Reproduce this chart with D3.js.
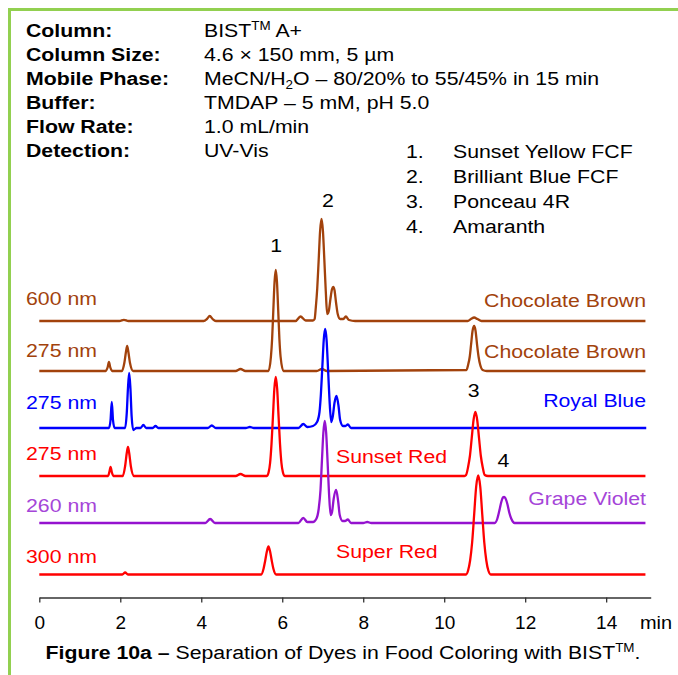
<!DOCTYPE html>
<html>
<head>
<meta charset="utf-8">
<script src="https://cdn.jsdelivr.net/npm/d3@7"></script>
<style>
  html, body { margin: 0; padding: 0; background: #fff; }
  svg { display: block; }
  text { font-family: "Liberation Sans", Arial, Helvetica, sans-serif; }
</style>
</head>
<body>
<svg id="chart" width="678" height="675"></svg>
<script>
// ---------------- DATA ----------------
const timeTicks = [0, 2, 4, 6, 8, 10, 12, 14];
const wavelengthLabels = ["600 nm", "275 nm", "275 nm", "275 nm", "260 nm", "300 nm"];
const sampleLabels = ["Chocolate Brown", "Chocolate Brown", "Royal Blue", "Sunset Red", "Grape Violet", "Super Red"];
// vertical stacking offsets of each chromatogram (signal units)
const offsets = [299, 249, 192, 144, 97, 45.5];

const headerKeys = ["Column:", "Column Size:", "Mobile Phase:", "Buffer:", "Flow Rate:", "Detection:"];
const legendNumbers = ["1.", "2.", "3.", "4."];
const legendNames = ["Sunset Yellow FCF", "Brilliant Blue FCF", "Ponceau 4R", "Amaranth"];
const peakNumbers = ["1", "2", "3", "4"];
const peakLabelTimes = [5.85, 7.13, 10.73, 11.46];

// chromatograms: [time (min), signal]
const trace600Brown = [[0,0],[1.98,0],[2.09,1.2],[2.2,0],[4.06,0],[4.14,2],[4.21,5],[4.28,2],[4.36,0],[6.33,0],[6.45,4.5],[6.58,0.5],[6.76,0.5],
  [6.80,2],[6.83,14],[6.865,33],[6.90,61],[6.935,90],[6.97,102],[7.005,90],[7.04,61],[7.075,30],[7.11,7],[7.15,10],[7.19,22],[7.23,32],[7.26,34],[7.29,31],[7.33,18],[7.37,7],[7.43,2],[7.51,2],[7.57,4.5],[7.65,1],[7.8,0],
  [10.58,0],[10.66,2],[10.74,3.5],[10.82,2],[10.92,0],[14.97,0]];
const trace275Brown = [[0,0],[1.64,0],[1.69,4],[1.72,9],[1.75,4],[1.80,0],[2.04,0],[2.10,8],[2.14,19],[2.17,25],[2.20,19],[2.24,8],[2.32,0],[4.85,0],[4.97,2],[5.09,0],
  [5.66,0],[5.72,14],[5.75,32],[5.78,61],[5.81,89],[5.84,101],[5.87,89],[5.90,61],[5.93,32],[5.96,14],[6.03,0],[6.85,0],[6.98,2],[7.1,0],
  [10.55,1],[10.59,6],[10.63,14],[10.665,27],[10.70,40],[10.74,45],[10.775,40],[10.81,27],[10.85,14],[10.89,6],[10.95,1],[11.05,0],[14.97,0]];
const trace275Blue = [[0,0],[1.72,0],[1.76,8],[1.79,26],[1.82,8],[1.86,0],[2.12,0],[2.16,15],[2.19,40],[2.22,55],[2.25,40],[2.28,12],[2.32,-2],[2.40,0],[2.50,0],[2.57,3],[2.64,0],[2.80,0],[2.87,2],[2.94,0],
  [4.16,0],[4.26,2.5],[4.36,0],[5.10,0],[5.2,1],[5.3,0],[6.40,0],[6.52,4],[6.62,1],[6.76,2],[6.86,6],[6.92,16],[6.955,34],[6.99,61],[7.025,88],[7.06,99],[7.095,88],[7.13,60],[7.165,30],[7.21,6],
  [7.25,12],[7.29,25],[7.34,32],[7.39,22],[7.43,8],[7.50,2],[7.56,2],[7.62,3.5],[7.70,0],[14.99,0]];
const trace275Red = [[0,0],[1.70,0],[1.73,4],[1.76,9],[1.79,4],[1.83,0],[2.06,0],[2.12,10],[2.16,23],[2.19,29],[2.22,23],[2.26,10],[2.34,0],[4.85,0],[4.97,2],[5.09,0],
  [5.62,0],[5.665,4],[5.70,13],[5.735,32],[5.77,59],[5.805,87],[5.84,99],[5.875,87],[5.91,59],[5.945,32],[5.98,13],[6.015,4],[6.06,0],
  [10.50,0],[10.54,1],[10.59,9],[10.635,20],[10.68,38],[10.725,56],[10.77,64],[10.815,56],[10.86,38],[10.905,20],[10.95,9],[11.0,1],[11.08,0],[14.97,0]];
const trace260Violet = [[0,0],[4.10,0],[4.22,4],[4.34,0],[6.40,0],[6.52,5],[6.62,1],[6.76,1],[6.84,4],[6.90,14],[6.945,33],[6.98,62],[7.015,90],[7.05,102],[7.085,90],[7.12,61],[7.155,30],[7.195,8],
  [7.23,11],[7.27,24],[7.33,33],[7.38,22],[7.42,8],[7.49,2],[7.55,2],[7.62,3.5],[7.70,0],[8.0,0],[8.1,1],[8.2,0],
  [11.25,0],[11.31,4],[11.36,12],[11.41,21],[11.45,25.5],[11.48,26],[11.51,25],[11.56,19],[11.61,10],[11.66,4],[11.74,0],[14.97,0]];
const trace300Red = [[0,0],[2.05,0],[2.12,2],[2.19,0],[5.48,0],[5.54,6],[5.58,14],[5.62,23],[5.66,28],[5.70,23],[5.74,14],[5.78,6],[5.85,0],
  [10.54,0],[10.59,4],[10.64,14],[10.69,32],[10.74,60],[10.79,88],[10.84,99],[10.89,88],[10.94,60],[10.99,32],[11.04,14],[11.09,4],[11.15,0],[14.97,0]];

const traces = [trace600Brown, trace275Brown, trace275Blue, trace275Red, trace260Violet, trace300Red];

// ---------------- LAYOUT / STYLE ----------------
const W = 678, H = 675;
const FONT = '"Liberation Sans", Arial, Helvetica, sans-serif';
const SX = 1.12; // horizontal stretch of the lettering
const lineColors = ["#A2420C", "#A2420C", "#0000FF", "#FF0000", "#9512CF", "#FF0000"];
const textColors = ["#A2420C", "#A2420C", "#0000FF", "#FF0000", "#A545D8", "#FF0000"];
const leftLabelY = [305, 357, 409, 460, 512, 563];
const rightLabelY = [307, 358, 407, 463, 505, 558];
const rightLabelAnchor = ["end", "end", "end", "start", "end", "start"];
const rightLabelX = [646, 646, 646, 336, 646, 336];
const peakLabelY = [252, 207, 397, 467];
const axisY = 597.5;

const svg = d3.select("#chart");

const x = d3.scaleLinear().domain([0, 15.1]).range([39.3, 650.7]);
const y = d3.scaleLinear().domain([0, 420]).range([620, 200]);

function txt(g, px, py, s, opt = {}) {
  const t = g.append("text")
    .attr("transform", `translate(${px},${py}) scale(${opt.sx || SX},1)`)
    .attr("font-size", opt.size || 19)
    .attr("font-weight", opt.bold ? "bold" : "normal")
    .attr("fill", opt.color || "#000")
    .attr("text-anchor", opt.anchor || "start");
  if (s !== null) t.text(s);
  return t;
}

// green frame
svg.append("path")
  .attr("d", `M9.5,${H} V9.5 H${W}`)
  .attr("fill", "none")
  .attr("stroke", "#92D050")
  .attr("stroke-width", 3);

// header
const hdr = svg.append("g");
const hdrY = [37, 61, 85, 109, 133, 157];
headerKeys.forEach((k, i) => txt(hdr, 26, hdrY[i], k, { bold: true }));
{
  const t0 = txt(hdr, 204, hdrY[0], null);
  t0.append("tspan").text("BIST");
  t0.append("tspan").attr("dy", -7).attr("font-size", 12).text("TM");
  t0.append("tspan").attr("dy", 7).text(" A+");
  txt(hdr, 204, hdrY[1], "4.6 \u00d7 150 mm, 5 \u00b5m");
  const t2 = txt(hdr, 204, hdrY[2], null);
  t2.append("tspan").text("MeCN/H");
  t2.append("tspan").attr("dy", 4).attr("font-size", 12).text("2");
  t2.append("tspan").attr("dy", -4).text("O \u2013 80/20% to 55/45% in 15 min");
  txt(hdr, 204, hdrY[3], "TMDAP \u2013 5 mM, pH 5.0");
  txt(hdr, 204, hdrY[4], "1.0 mL/min");
  txt(hdr, 204, hdrY[5], "UV-Vis");
}

// legend
const legY = [158, 183, 208, 233];
legendNumbers.forEach((n, i) => {
  txt(hdr, 406, legY[i], n);
  txt(hdr, 453, legY[i], legendNames[i]);
});

// traces
const line = d3.line().curve(d3.curveMonotoneX);
const gTr = svg.append("g");
traces.forEach((tr, i) => {
  gTr.append("path")
    .attr("d", line.x(d => x(d[0])).y(d => y(d[1] + offsets[i]))(tr))
    .attr("fill", "none")
    .attr("stroke", lineColors[i])
    .attr("stroke-width", 2.3)
    .attr("stroke-linejoin", "round");
});

// labels
const gL = svg.append("g");
wavelengthLabels.forEach((s, i) => txt(gL, 26, leftLabelY[i], s, { color: textColors[i] }));
sampleLabels.forEach((s, i) => txt(gL, rightLabelX[i], rightLabelY[i], s, { color: textColors[i], anchor: rightLabelAnchor[i] }));
peakNumbers.forEach((s, i) => txt(gL, x(peakLabelTimes[i]), peakLabelY[i], s, { anchor: "middle" }));

// axis
const gAx = svg.append("g")
  .attr("transform", `translate(0,${axisY})`)
  .call(d3.axisBottom(x).tickValues(timeTicks).tickSize(5).tickPadding(13).tickSizeOuter(0).tickFormat(d3.format("d")));
gAx.select(".domain").attr("stroke", "#333").attr("stroke-width", 1.3);
gAx.selectAll(".tick line").attr("stroke", "#333").attr("stroke-width", 1.3);
gAx.selectAll(".tick text").attr("font-size", 19).attr("font-family", FONT).attr("fill", "#000");
txt(svg, 640, 628.5, "min", { sx: 1.05 });

// caption
{
  const c = txt(svg, 343, 659, null, { anchor: "middle" });
  c.append("tspan").attr("font-weight", "bold").text("Figure 10a \u2013");
  c.append("tspan").text(" Separation of Dyes in Food Coloring with BIST");
  c.append("tspan").attr("dy", -7).attr("font-size", 12).text("TM");
  c.append("tspan").attr("dy", 7).text(".");
}
</script>
</body>
</html>
